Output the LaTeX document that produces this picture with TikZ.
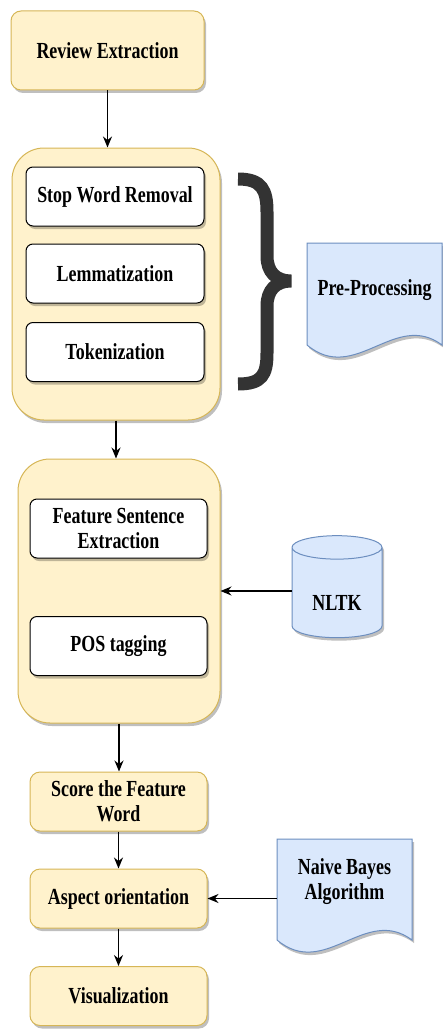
\documentclass[tikz,border=0pt]{standalone}
\usepackage{fontspec}
\setmainfont{Liberation Serif}
\usetikzlibrary{arrows.meta,shapes.geometric,shadows}
\definecolor{yfill}{HTML}{FFF2CC}
\definecolor{ydraw}{HTML}{D6B656}
\definecolor{bfill}{HTML}{DAE8FC}
\definecolor{bdraw}{HTML}{6C8EBF}
\definecolor{bracec}{HTML}{333333}
\newcommand{\nar}[1]{\scalebox{0.78}[1]{#1}}

\begin{document}
\begin{tikzpicture}[x=1pt,y=-1pt,line width=1pt,>={Stealth[length=11pt,width=9pt]},
    font=\fontsize{23}{25}\selectfont\bfseries,
    shad/.style={drop shadow={shadow xshift=2pt,shadow yshift=-3pt,fill=black,opacity=0.25}},
    yelbox/.style={draw=ydraw,fill=yfill,rounded corners=10pt,minimum width=177pt,minimum height=59pt,align=center,shad},
    grpbox/.style={draw=ydraw,fill=yfill,rounded corners=32pt,shad},
    inbox/.style={draw=black,fill=white,rounded corners=7pt,minimum width=178pt,minimum height=59pt,align=center,shad},
    docpath/.style={draw=bdraw,fill=bfill,shad},
    flow/.style={->,line width=1.3pt}]
    \useasboundingbox (0,0) rectangle (443,1030);
    % top part
    \node[yelbox,minimum width=193pt,minimum height=79pt] (1) at (107.5,50.5) {\nar{Review Extraction}};
    \node[grpbox,minimum width=208pt,minimum height=272pt] (2) at (116,284) {};
    \node[inbox] (2a) at (115,196.5) {\nar{Stop Word Removal}};
    \node[inbox] (2b) at (115,273.5) {\nar{Lemmatization}};
    \node[inbox] (2c) at (115,352) {\nar{Tokenization}};
    \draw[flow] (1) -- (1 |- 2.north);
    % brace and pre-processing
    \draw[line width=13pt,bracec] (238,179) .. controls (262,179) and (267,190) .. (267,212) -- (267,256)
        .. controls (267,272) and (276,281) .. (291,281) .. controls (276,281) and (267,290) .. (267,306)
        -- (267,353) .. controls (267,375) and (262,384) .. (238,384);
    \path[docpath] (307,243) -- (442,243) -- (442,345) .. controls (395,310) and (355,385) .. (307,345) -- cycle;
    \node[minimum width=135pt,minimum height=94pt] (p) at (374.5,290) {\nar{Pre-Processing}};
    % middle part
    \node[grpbox,minimum width=202pt,minimum height=264pt] (3) at (119,591) {};
    \node[inbox,minimum width=177pt] (3a) at (118.5,528.5) {\nar{Feature Sentence}\\\nar{Extraction}};
    \node[inbox,minimum width=177pt] (3b) at (118.5,646) {\nar{POS tagging}};
    \node[cylinder,shape border rotate=90,aspect=0.42,draw=bdraw,fill=bfill,shad,
        minimum width=90pt,minimum height=102pt,text height=31pt,text depth=0pt] (n) at (337,595) {\nar{NLTK}};
    \draw[flow] (2.south) -- (2.south |- 3.north);
    \draw[flow] (n.west |- 3.east) -- (3.east);
    % bottom part
    \node[yelbox] (4) at (118.5,801.5) {\nar{Score the Feature}\\\nar{Word}};
    \node[yelbox] (5) at (118.5,898.5) {\nar{Aspect orientation}};
    \node[yelbox] (6) at (118.5,996) {\nar{Visualization}};
    \path[docpath] (277,839) -- (412,839) -- (412,940) .. controls (365,905) and (325,980) .. (277,940) -- cycle;
    \node[minimum width=135pt,minimum height=86pt,align=center] (nb) at (344.5,882) {\nar{Naive Bayes}\\\nar{Algorithm}};
    \draw[flow] (3.south) -- (3.south |- 4.north);
    \draw[flow] (4) -- (5);
    \draw[flow] (5) -- (6);
    \draw[flow] (5.east -| nb.west) -- (5.east);
\end{tikzpicture}
\end{document}
